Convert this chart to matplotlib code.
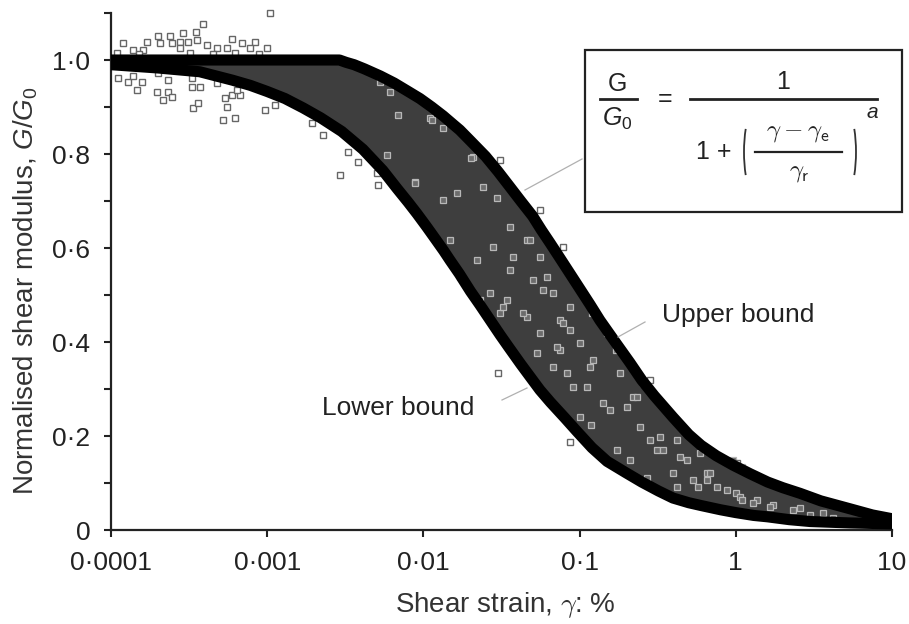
import matplotlib
matplotlib.use("Agg")
import matplotlib.pyplot as plt
from matplotlib.ticker import FixedLocator, FixedFormatter, NullLocator
from matplotlib.patches import Rectangle, Arc
from matplotlib.lines import Line2D

plt.rcParams['font.family'] = ['Liberation Sans', 'DejaVu Sans']
plt.rcParams['mathtext.fontset'] = 'custom'
plt.rcParams['mathtext.rm'] = 'Liberation Sans'
plt.rcParams['mathtext.it'] = 'Liberation Sans:italic'

# ---- data ----
upper_x = [0.0001, 0.0003, 0.001, 0.0029, 0.0032, 0.0036, 0.0042, 0.0053, 0.0065, 0.0080,
           0.0095, 0.0113, 0.0134, 0.0155, 0.0171, 0.020, 0.025, 0.030, 0.0358, 0.042,
           0.050, 0.057, 0.0646, 0.075, 0.087, 0.100, 0.117, 0.135, 0.169, 0.21,
           0.25, 0.30, 0.396, 0.50, 0.60, 0.75, 0.96, 1.23, 1.6, 2.0,
           2.58, 3.5, 5.4, 7.5, 10.0]
upper_y = [1.000, 1.000, 1.000, 1.000, 0.995, 0.990, 0.981, 0.966, 0.951, 0.933,
           0.918, 0.900, 0.881, 0.863, 0.851, 0.828, 0.795, 0.763, 0.730, 0.700,
           0.668, 0.638, 0.611, 0.578, 0.545, 0.514, 0.479, 0.446, 0.400, 0.356,
           0.319, 0.286, 0.240, 0.203, 0.180, 0.158, 0.138, 0.120, 0.102, 0.090,
           0.078, 0.062, 0.045, 0.032, 0.024]

lower_x = [0.0001, 0.0002, 0.00037, 0.0006, 0.00078, 0.001, 0.0013, 0.0017, 0.0022, 0.003,
           0.0041, 0.0055, 0.0068, 0.0080, 0.0091, 0.0105, 0.012, 0.0135, 0.0148, 0.017,
           0.020, 0.023, 0.0267, 0.031, 0.035, 0.042, 0.050, 0.0557, 0.065, 0.0807,
           0.096, 0.12, 0.15, 0.20, 0.25, 0.32, 0.396, 0.50, 0.60, 0.80,
           1.0, 1.3, 1.6, 2.2, 3.0, 5.4, 10.0]
lower_y = [0.990, 0.983, 0.975, 0.957, 0.946, 0.933, 0.918, 0.898, 0.877, 0.848,
           0.810, 0.765, 0.726, 0.697, 0.673, 0.645, 0.618, 0.594, 0.574, 0.545,
           0.508, 0.479, 0.447, 0.415, 0.390, 0.353, 0.319, 0.298, 0.272, 0.238,
           0.210, 0.175, 0.146, 0.121, 0.102, 0.083, 0.068, 0.058, 0.052, 0.043,
           0.037, 0.031, 0.028, 0.022, 0.018, 0.015, 0.013]

outside_x = [0.00104, 0.000388, 0.00035, 0.0002, 0.000238, 0.000289, 0.00017, 0.000119, 0.000138,
             0.000206, 0.000245, 0.000277, 0.000311, 0.000355, 0.000412, 0.000596, 0.00069,
             0.000836, 0.00099, 0.00016, 0.000277, 0.000477, 0.00055, 0.000776,
             0.00011, 0.00015, 0.00032, 0.00045, 0.00062, 0.00088,
             0.000111, 0.000128, 0.000138, 0.000158, 0.000147, 0.0002, 0.000232, 0.000197,
             0.000232, 0.000215, 0.000245, 0.00033, 0.00033, 0.00037, 0.000336, 0.00036,
             0.000477, 0.000536, 0.00055, 0.000596, 0.00067, 0.00064, 0.000521, 0.000622,
             0.00097, 0.00112, 0.00194, 0.00228, 0.00292, 0.00329, 0.00381, 0.00505, 0.00515,
             0.030, 0.0869, 0.0309, 0.0557, 0.0783, 0.283, 1.02]
outside_y = [1.100, 1.077, 1.060, 1.051, 1.051, 1.057, 1.038, 1.036, 1.021,
             1.036, 1.036, 1.038, 1.038, 1.043, 1.032, 1.045, 1.036,
             1.038, 1.026, 1.021, 1.026, 1.026, 1.026, 1.026,
             1.015, 1.012, 1.015, 1.012, 1.015, 1.012,
             0.962, 0.953, 0.966, 0.953, 0.936, 0.972, 0.957, 0.932,
             0.932, 0.915, 0.921, 0.962, 0.943, 0.943, 0.898, 0.909,
             0.951, 0.919, 0.900, 0.926, 0.926, 0.936, 0.872, 0.877,
             0.894, 0.904, 0.866, 0.840, 0.755, 0.804, 0.783, 0.760, 0.734,
             0.334, 0.187, 0.787, 0.681, 0.602, 0.319, 0.143]

inside_x = [0.00687, 0.0110, 0.0061, 0.0053, 0.0134, 0.0208, 0.00883, 0.00585, 0.0164,
            0.0296, 0.0134, 0.0358, 0.046, 0.0148, 0.022, 0.0557, 0.0358, 0.0171, 0.0504,
            0.023, 0.0343, 0.0672, 0.0309, 0.046, 0.075, 0.087, 0.0557, 0.0296,
            0.0783, 0.117, 0.0672, 0.0907, 0.182, 0.119, 0.244, 0.157, 0.22, 0.313,
            0.44, 0.654, 0.396, 0.21, 1.0, 1.37, 1.73, 2.58, 3.61, 0.57, 0.283,
            0.15, 0.1, 0.075, 0.17, 0.12, 0.087,
            0.233, 0.327, 0.342, 0.42, 0.53, 0.684, 0.76, 0.96, 1.1, 1.06, 1.29,
            0.122, 0.111, 0.141, 0.083, 0.1007, 0.174, 0.20, 0.255, 0.487, 0.59, 0.27, 0.42,
            0.0482, 0.0618, 0.0434, 0.0324, 0.0267, 0.0533, 0.0716, 0.0375, 0.0279, 0.0583,
            0.0113, 0.0203, 0.0088, 0.0241,
            0.654, 0.88, 1.1, 1.66, 2.32, 2.99, 4.19]
inside_y = [0.883, 0.877, 0.932, 0.953, 0.855, 0.794, 0.740, 0.798, 0.717,
            0.706, 0.702, 0.645, 0.617, 0.617, 0.574, 0.581, 0.553, 0.538, 0.532,
            0.489, 0.489, 0.504, 0.462, 0.453, 0.447, 0.426, 0.419, 0.426,
            0.440, 0.347, 0.347, 0.304, 0.334, 0.223, 0.219, 0.255, 0.283, 0.170,
            0.155, 0.121, 0.121, 0.149, 0.079, 0.064, 0.053, 0.047, 0.036, 0.0915, 0.191,
            0.419, 0.398, 0.383, 0.383, 0.462, 0.474,
            0.283, 0.198, 0.170, 0.191, 0.106, 0.121, 0.0915, 0.149, 0.134, 0.070, 0.057,
            0.362, 0.304, 0.270, 0.334, 0.240, 0.170, 0.262, 0.313, 0.149, 0.164, 0.110, 0.0915,
            0.617, 0.538, 0.462, 0.474, 0.504, 0.377, 0.389, 0.581, 0.602, 0.511,
            0.872, 0.791, 0.738, 0.730,
            0.106, 0.085, 0.064, 0.049, 0.043, 0.032, 0.026]

x_ticks = [0.0001, 0.001, 0.01, 0.1, 1, 10]
x_ticklabels = ['0·0001', '0·001', '0·01', '0·1', '1', '10']
y_ticks = [0, 0.2, 0.4, 0.6, 0.8, 1.0]
y_ticklabels = ['0', '0·2', '0·4', '0·6', '0·8', '1·0']
y_minor = [0.1, 0.3, 0.5, 0.7, 0.9, 1.1]

# ---- figure ----
W, H = 909, 624
fig = plt.figure(figsize=(W / 100, H / 100), dpi=100)
ax = fig.add_axes([111 / W, 1 - 530 / H, (892 - 111) / W, (530 - 13) / H])

ax.set_xscale('log')
ax.set_xlim(0.0001, 10)
ax.set_ylim(0, 1.1)

# dense data band
ax.fill(list(upper_x) + list(lower_x)[::-1], list(upper_y) + list(lower_y)[::-1],
        color='#3e3e3e', lw=0, zorder=1)
ax.plot(inside_x, inside_y, ls='none', marker='s', ms=4.6, mfc='#6c6c6c', mec='#b8b8b8',
        mew=0.9, zorder=2)
ax.plot(outside_x, outside_y, ls='none', marker='s', ms=5.0, mfc='white', mec='#666666',
        mew=1.0, zorder=2, clip_on=False)

ax.plot(upper_x, upper_y, color='black', lw=8, zorder=3, solid_joinstyle='round',
        solid_capstyle='round')
ax.plot(lower_x, lower_y, color='black', lw=8, zorder=3, solid_joinstyle='round',
        solid_capstyle='round')

# axes styling
for s in ['top', 'right']:
    ax.spines[s].set_visible(False)
for s in ['left', 'bottom']:
    ax.spines[s].set_linewidth(1.6)
    ax.spines[s].set_color('#222222')

ax.xaxis.set_major_locator(FixedLocator(x_ticks))
ax.xaxis.set_major_formatter(FixedFormatter(x_ticklabels))
ax.xaxis.set_minor_locator(NullLocator())
ax.yaxis.set_major_locator(FixedLocator(y_ticks))
ax.yaxis.set_major_formatter(FixedFormatter(y_ticklabels))
ax.yaxis.set_minor_locator(FixedLocator(y_minor))
ax.tick_params(axis='both', which='major', direction='out', length=5, width=1.5,
               color='#222222', labelsize=19, labelcolor='#222222', pad=10)
ax.tick_params(axis='y', which='minor', direction='out', length=5, width=1.5, color='#222222')

ax.set_xlabel(r'Shear strain, $\gamma$: %', fontsize=20, color='#333333', math_fontfamily='cm')
ax.set_ylabel(r'Normalised shear modulus, $G/G_0$', fontsize=20, color='#333333')
ax.xaxis.set_label_coords((505 - 111) / 781, (530 - 590) / 517)
ax.yaxis.set_label_coords((40 - 111) / 781, (530 - 291) / 517)

# ---- formula box (pixel layout) ----
def fx(px):
    return px / W

def fy(py):
    return 1 - py / H

fig.patches.append(Rectangle((fx(585), fy(212)), (902 - 585) / W, (212 - 50) / H,
                             transform=fig.transFigure, facecolor='white',
                             edgecolor='#222222', lw=1.6, zorder=5))
tc = '#222222'
fs = 18
fig.text(fx(617), fy(84), 'G', fontsize=fs, ha='center', va='center', color=tc, zorder=6)
fig.text(fx(617), fy(119), r'$G_0$', fontsize=fs, ha='center', va='center', color=tc, zorder=6)
fig.text(fx(665), fy(99), '=', fontsize=fs, ha='center', va='center', color=tc, zorder=6)
fig.text(fx(783), fy(82), '1', fontsize=fs, ha='center', va='center', color=tc, zorder=6)
fig.text(fx(714), fy(152), '1 +', fontsize=fs, ha='center', va='center', color=tc, zorder=6)
fig.text(fx(798), fy(132), r'$\gamma - \gamma_\mathsf{e}$', fontsize=fs, math_fontfamily='cm',
         ha='center', va='center', color=tc, zorder=6)
fig.text(fx(799), fy(172), r'$\gamma_\mathsf{r}$', fontsize=fs, math_fontfamily='cm',
         ha='center', va='center', color=tc, zorder=6)
fig.text(fx(872), fy(113), r'$a$', fontsize=15, ha='center', va='center', color=tc, zorder=6)
for (x0, x1, yy, lw) in [(600, 637, 99, 2.0), (690, 877, 99, 2.0), (755, 842, 152, 1.6)]:
    fig.lines.append(Line2D([fx(x0), fx(x1)], [fy(yy), fy(yy)], transform=fig.transFigure,
                            color=tc, lw=lw, zorder=6))
fig.patches.append(Arc((758 / 100, (H - 152) / 100), 28 / 100, 96 / 100, theta1=118,
                       theta2=242, transform=fig.dpi_scale_trans, color='#333333', lw=1.3,
                       zorder=6))
fig.patches.append(Arc((842 / 100, (H - 152) / 100), 28 / 100, 96 / 100, theta1=-62,
                       theta2=62, transform=fig.dpi_scale_trans, color='#333333', lw=1.3,
                       zorder=6))

# annotations
fig.text(fx(662), fy(315), 'Upper bound', fontsize=19, color='#222222', va='center')
fig.text(fx(322), fy(408), 'Lower bound', fontsize=19, color='#222222', va='center')
for (x0, y0, x1, y1) in [(582, 159, 525, 190), (645, 322, 618, 337), (502, 400, 527, 388)]:
    fig.lines.append(Line2D([fx(x0), fx(x1)], [fy(y0), fy(y1)], transform=fig.transFigure,
                            color='#b0b0b0', lw=0.9, zorder=4))

fig.savefig('out.png', dpi=100)
